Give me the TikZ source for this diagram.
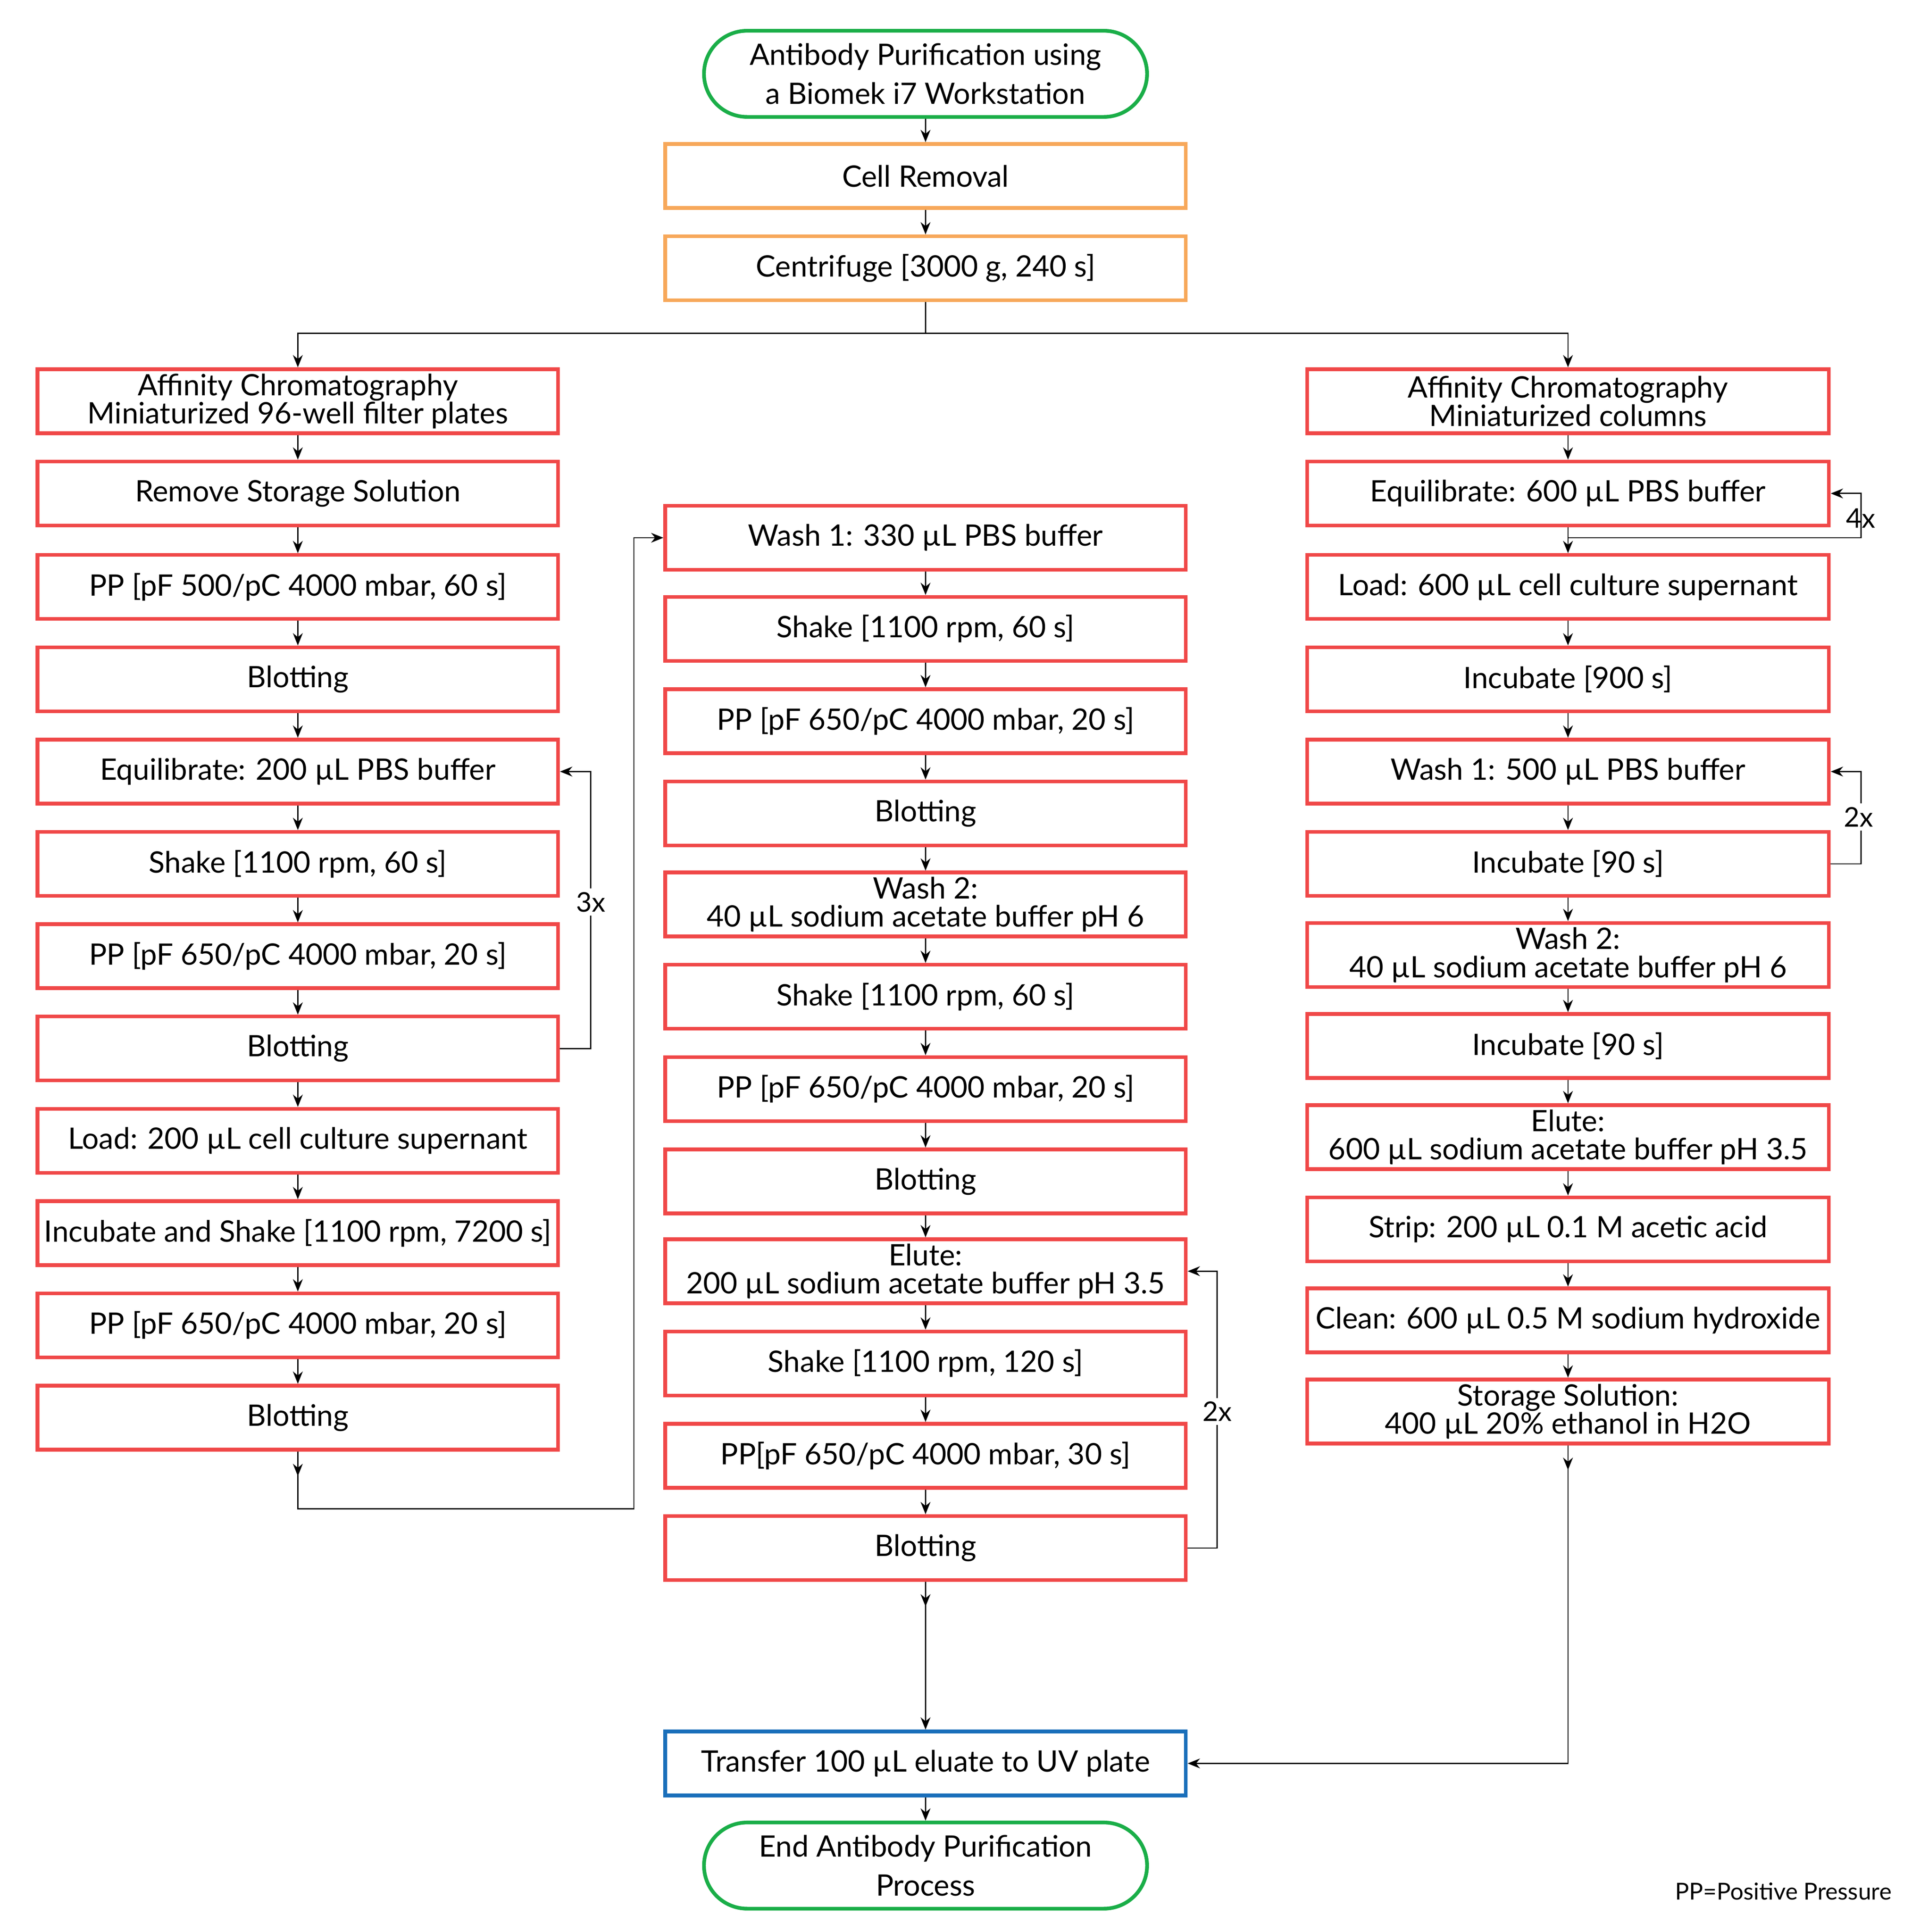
\documentclass[tikz,border=0pt]{standalone}
\usepackage{fontspec}
\setmainfont{Lato}
\usetikzlibrary{arrows.meta}
\definecolor{cred}{HTML}{F04848}
\definecolor{corange}{HTML}{F7A85A}
\definecolor{cgreen}{HTML}{1AAE48}
\definecolor{cblue}{HTML}{1A6FBA}
\begin{document}
\begin{tikzpicture}[x=1pt,y=-1pt,
  box/.style={draw=cred,line width=3pt,minimum width=423pt,minimum height=52pt,inner sep=0pt,align=center,font=\fontsize{24}{23}\selectfont},
  ob/.style={box,draw=corange},
  bb/.style={box,draw=cblue},
  term/.style={box,draw=cgreen,rounded corners=35pt,minimum width=360pt,minimum height=70pt,font=\fontsize{24}{32}\selectfont},
  ar/.style={-{Stealth[length=10pt,width=8pt]},line width=1pt},
  ln/.style={line width=1pt},
  lab/.style={fill=white,inner sep=3pt,font=\fontsize{22}{22}\selectfont}]
\useasboundingbox (0,0) rectangle (1560,1570);
\node[term] (start) at (752,60) {Antibody Purification using\\a Biomek i7 Workstation};
\node[ob] (cr) at (752,143) {Cell Removal};
\node[ob] (cf) at (752,218) {Centrifuge [3000 g, 240 s]};
% left
\node[box] (l1) at (242,326) {Affinity Chromatography\\Miniaturized 96-well filter plates};
\node[box] (l2) at (242,401) {Remove Storage Solution};
\node[box] (l3) at (242,477) {PP [pF 500/pC 4000 mbar, 60 s]};
\node[box] (l4) at (242,552) {Blotting};
\node[box] (l5) at (242,627) {Equilibrate: 200 µL PBS buffer};
\node[box] (l6) at (242,702) {Shake [1100 rpm, 60 s]};
\node[box] (l7) at (242,777) {PP [pF 650/pC 4000 mbar, 20 s]};
\node[box] (l8) at (242,852) {Blotting};
\node[box] (l9) at (242,927) {Load: 200 µL cell culture supernant};
\node[box] (l10) at (242,1002) {Incubate and Shake [1100 rpm, 7200 s]};
\node[box] (l11) at (242,1077) {PP [pF 650/pC 4000 mbar, 20 s]};
\node[box] (l12) at (242,1152) {Blotting};
% middle
\node[box] (m1) at (752,437) {Wash 1: 330 µL PBS buffer};
\node[box] (m2) at (752,511) {Shake [1100 rpm, 60 s]};
\node[box] (m3) at (752,586) {PP [pF 650/pC 4000 mbar, 20 s]};
\node[box] (m4) at (752,661) {Blotting};
\node[box] (m5) at (752,735) {Wash 2:\\40 µL sodium acetate buffer pH 6};
\node[box] (m6) at (752,810) {Shake [1100 rpm, 60 s]};
\node[box] (m7) at (752,885) {PP [pF 650/pC 4000 mbar, 20 s]};
\node[box] (m8) at (752,960) {Blotting};
\node[box] (m9) at (752,1033) {Elute:\\200 µL sodium acetate buffer pH 3.5};
\node[box] (m10) at (752,1108) {Shake [1100 rpm, 120 s]};
\node[box] (m11) at (752,1183) {PP[pF 650/pC 4000 mbar, 30 s]};
\node[box] (m12) at (752,1258) {Blotting};
% right
\node[box,minimum width=424pt] (r1) at (1274,326) {Affinity Chromatography\\Miniaturized columns};
\node[box,minimum width=424pt] (r2) at (1274,401) {Equilibrate: 600 µL PBS buffer};
\node[box,minimum width=424pt] (r3) at (1274,477) {Load: 600 µL cell culture supernant};
\node[box,minimum width=424pt] (r4) at (1274,552) {Incubate [900 s]};
\node[box,minimum width=424pt] (r5) at (1274,627) {Wash 1: 500 µL PBS buffer};
\node[box,minimum width=424pt] (r6) at (1274,702) {Incubate [90 s]};
\node[box,minimum width=424pt] (r7) at (1274,776) {Wash 2:\\40 µL sodium acetate buffer pH 6};
\node[box,minimum width=424pt] (r8) at (1274,850) {Incubate [90 s]};
\node[box,minimum width=424pt] (r9) at (1274,924) {Elute:\\600 µL sodium acetate buffer pH 3.5};
\node[box,minimum width=424pt] (r10) at (1274,999) {Strip: 200 µL 0.1 M acetic acid};
\node[box,minimum width=424pt] (r11) at (1274,1073) {Clean: 600 µL 0.5 M sodium hydroxide};
\node[box,minimum width=424pt] (r12) at (1274,1147) {Storage Solution:\\400 µL 20\% ethanol in H2O};
\node[bb] (tr) at (752,1433) {Transfer 100 µL eluate to UV plate};
\node[term] (end) at (752,1516) {End Antibody Purification\\Process};
\node[font=\fontsize{19}{19}\selectfont] (pp) at (1449,1537) {PP=Positive Pressure};
% vertical arrows
\draw[ar] (start) -- (cr);
\draw[ar] (cr) -- (cf);
\foreach \c in {l,m,r}{
 \foreach \i [evaluate=\i as \j using int(\i+1)] in {1,...,11}{
  \draw[ar] (\c\i) -- (\c\j);}}
\draw[ar] (tr) -- (end);
% branch
\coordinate (bj) at (752,271);
\draw[ln] (cf.south) -- (bj);
\draw[ar] (bj) -| (l1.north);
\draw[ar] (bj) -| (r1.north);
% left loop 3x
\coordinate (lx) at (480,852);
\draw[ar] (l8.east) -| (480,627) -- (l5.east);
\node[lab] at (480,733) {3x};
% left to middle
\draw[ar] (l12.south) -- ++(0,20);
\draw[ar] (l12.south) |- (515,1226) |- (m1.west);
% middle loop 2x
\draw[ar] (m12.east) -| (989,1033) -- (m9.east);
\node[lab] at (989,1147) {2x};
% middle to transfer
\draw[ar] (m12.south) -- ++(0,20);
\draw[ar] (m12.south) -- (tr.north);
% right loops
\coordinate (rj) at (1274,437);
\draw[ar] (rj) -| (1512,401) -- (r2.east);
\node[lab,fill=none,inner sep=0pt] at (1512,421) {4x};
\draw[ar] (r6.east) -| (1512,627) -- (r5.east);
\node[lab] at (1510,664) {2x};
% right to transfer
\draw[ar] (r12.south) -- ++(0,20);
\draw[ar] (r12.south) |- (tr.east);
\end{tikzpicture}
\end{document}
